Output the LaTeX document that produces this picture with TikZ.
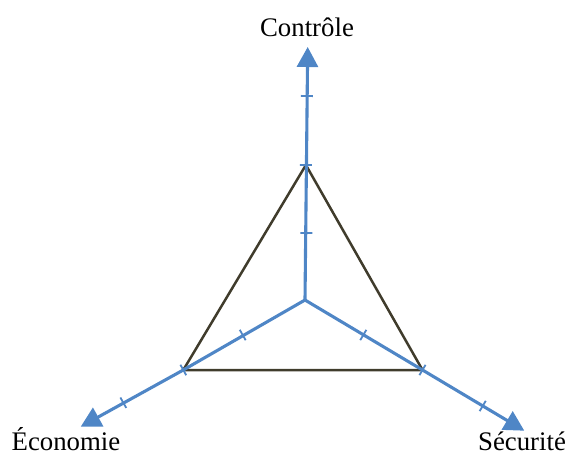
\documentclass[tikz,border=0pt]{standalone}
\usepackage{fontspec}
\setmainfont{Liberation Serif}
\usetikzlibrary{arrows.meta,calc}
\definecolor{axisblue}{RGB}{79,134,198}
\definecolor{tridark}{RGB}{64,60,44}
\tikzset{
  axisline/.style={draw=axisblue,line width=3.1pt,-{Triangle[length=20pt,width=21pt]}},
  triline/.style={draw=tridark,line width=2.5pt,line join=miter},
  tickmark/.style={draw=axisblue,line width=1.8pt},
  lbl/.style={font=\fontsize{26.8}{30}\selectfont,inner sep=0pt,anchor=base}
}
\newcommand\mytick[2]{\draw[tickmark] ($(#1)!6pt!90:(#2)$) -- ($(#1)!6pt!-90:(#2)$);}
\begin{document}
\begin{tikzpicture}[x=1pt,y=-1pt]
\useasboundingbox (0,0) rectangle (568,455);
% centre and tips
\coordinate (O) at (305,300);
\coordinate (U) at (307.7,47);
\coordinate (L) at (80.7,426.7);
\coordinate (R) at (524.3,430.7);
% triangle vertices
\coordinate (A) at (305.9,165);
\coordinate (B) at (183.3,370);
\coordinate (C) at (422.5,370);
\draw[triline] (A) -- (B) -- (C) -- cycle;
% axes
\draw[axisline] (O) -- (U);
\draw[axisline] (O) -- (B) -- (L);
\draw[axisline] (O) -- (C) -- (R);
% tick points
\coordinate (u1) at (306.4,233);
\coordinate (u3) at (306.8,96);
\coordinate (l1) at (242.7,335);
\coordinate (l3) at (123.3,402.7);
\coordinate (r1) at (363.3,335);
\coordinate (r3) at (482.7,406);
\mytick{u1}{U}
\mytick{A}{U}
\mytick{u3}{U}
\mytick{l1}{L}
\mytick{B}{L}
\mytick{l3}{L}
\mytick{r1}{R}
\mytick{C}{R}
\mytick{r3}{R}
% labels
\node[lbl] (tc) at (307,36) {Contrôle};
\node[lbl] (te) at (66,450) {Économie};
\node[lbl] (ts) at (522,450) {Sécurité};
\end{tikzpicture}
\end{document}
